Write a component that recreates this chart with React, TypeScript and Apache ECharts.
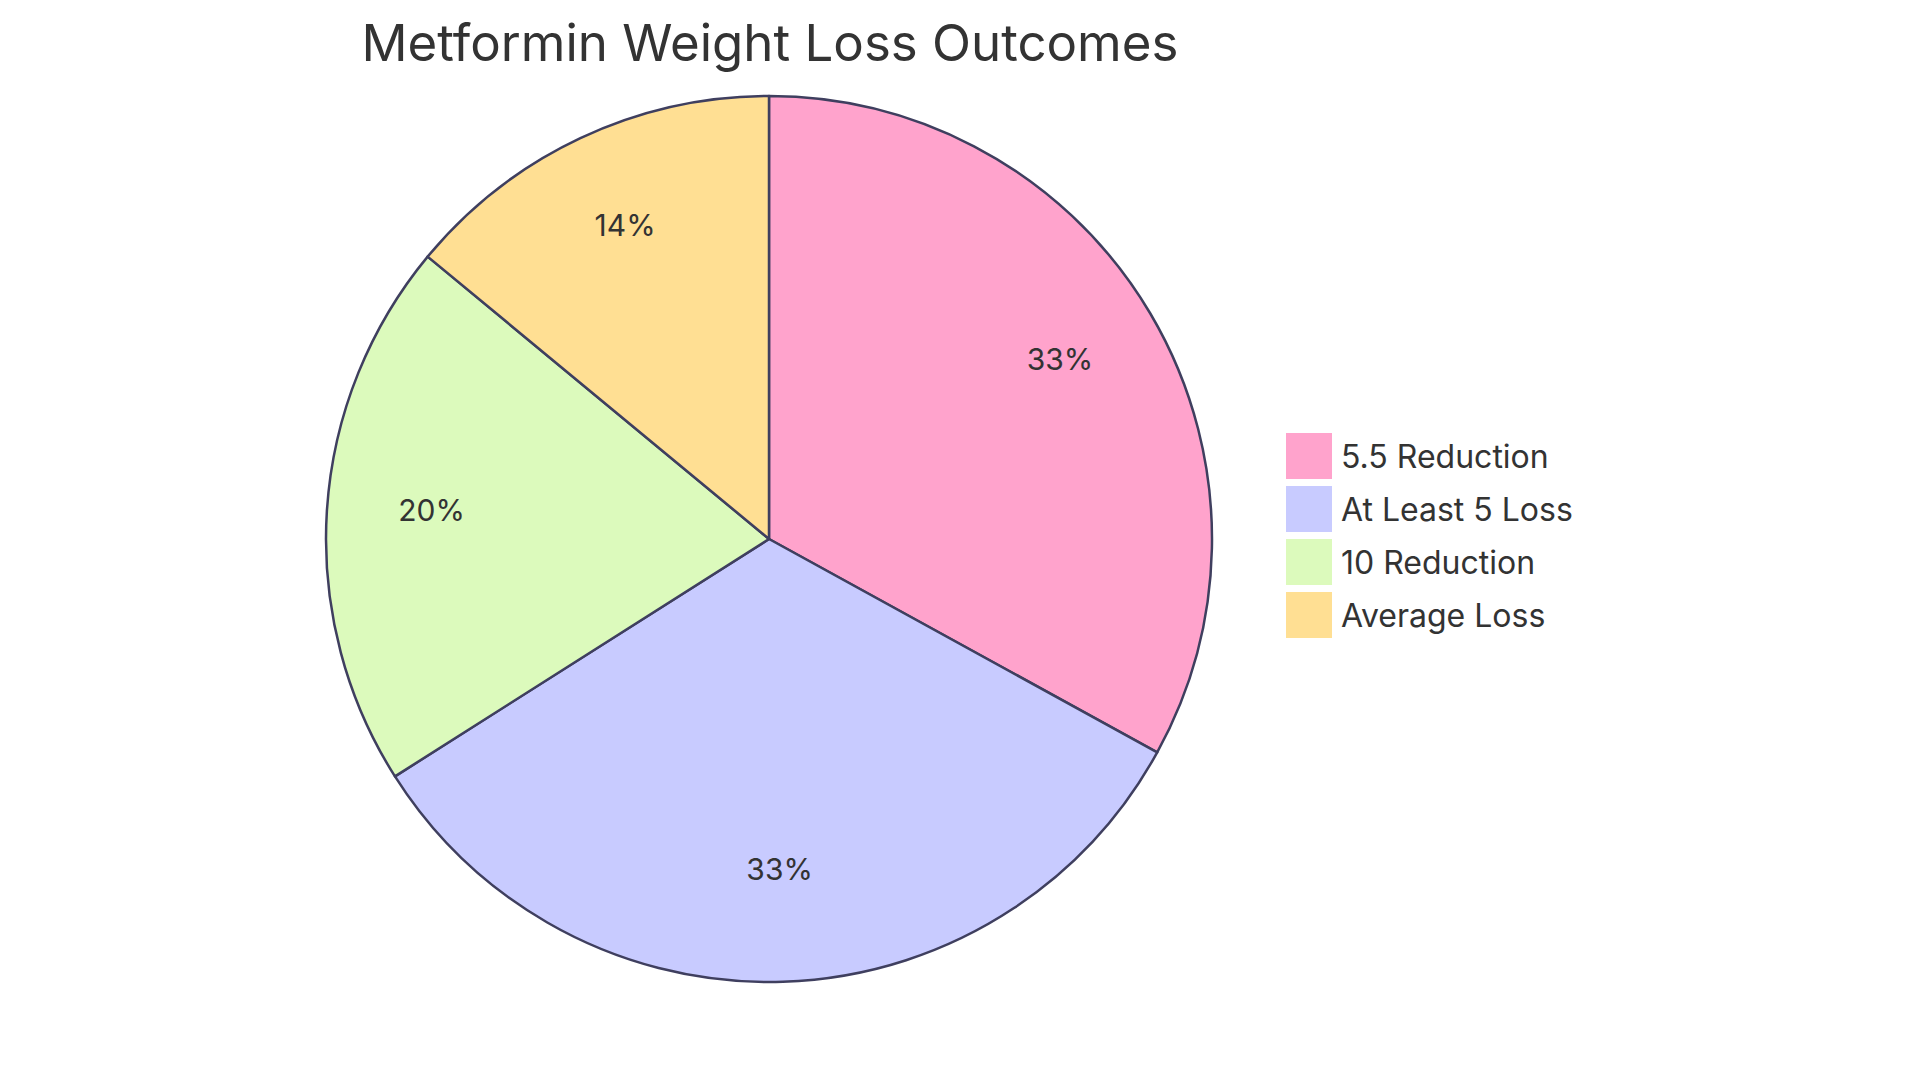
import { useEffect, useRef } from 'react'
import * as echarts from 'echarts'

const titleText = 'Metformin Weight Loss Outcomes'
const categories = ['5.5 Reduction', 'At Least 5 Loss', '10 Reduction', 'Average Loss']
const shares = [33, 33, 20, 14]
const colors = ['#FFA3CC', '#C8CBFF', '#DCFABC', '#FFDF93']

const FONT = 'Inter, "Noto Sans", sans-serif'

export default function App() {
  const chartRef = useRef<HTMLDivElement>(null)

  useEffect(() => {
    if (!chartRef.current) return
    document.body.style.margin = '0'

    const chart = echarts.init(chartRef.current, null, { renderer: 'svg' })

    const data = categories.map((name, i) => ({
      name,
      value: shares[i],
      itemStyle: { color: colors[i] }
    }))

    const option: echarts.EChartsOption = {
      animation: false,
      backgroundColor: '#ffffff',
      graphic: [
        {
          type: 'text',
          x: 770,
          y: 17,
          style: {
            text: titleText,
            fontFamily: FONT,
            fontSize: 51,
            fill: '#333333',
            textAlign: 'center',
            textVerticalAlign: 'top'
          }
        }
      ],
      legend: {
        orient: 'vertical',
        left: 1286,
        top: 433,
        padding: 0,
        itemWidth: 46,
        itemHeight: 46,
        itemGap: 7,
        icon: 'rect',
        selectedMode: false,
        data: categories.map((name, i) => ({ name, itemStyle: { color: colors[i], borderWidth: 0 } })),
        textStyle: {
          fontFamily: FONT,
          fontSize: 32,
          color: '#333333',
          padding: [0, 0, 0, 4]
        }
      },
      series: [
        {
          type: 'pie',
          center: [769, 539],
          radius: [0, 443],
          startAngle: 90,
          clockwise: true,
          silent: true,
          label: { show: false },
          labelLine: { show: false },
          itemStyle: { borderColor: '#3F3F5F', borderWidth: 2.5 },
          data
        },
        {
          // transparent ring only carries the percentage labels
          type: 'pie',
          center: [769, 539],
          radius: [227, 443],
          startAngle: 90,
          clockwise: true,
          silent: true,
          legendHoverLink: false,
          itemStyle: { color: 'transparent', borderWidth: 0 },
          label: {
            show: true,
            position: 'inside',
            offset: [0, -8],
            formatter: (p: any) => `${p.value}%`,
            fontFamily: FONT,
            fontSize: 30,
            color: '#333333'
          },
          labelLine: { show: false },
          data: categories.map((name, i) => ({ name, value: shares[i] }))
        }
      ]
    }

    chart.setOption(option)

    return () => {
      chart.dispose()
    }
  }, [])

  return <div ref={chartRef} style={{ width: 1920, height: 1083 }} />
}
